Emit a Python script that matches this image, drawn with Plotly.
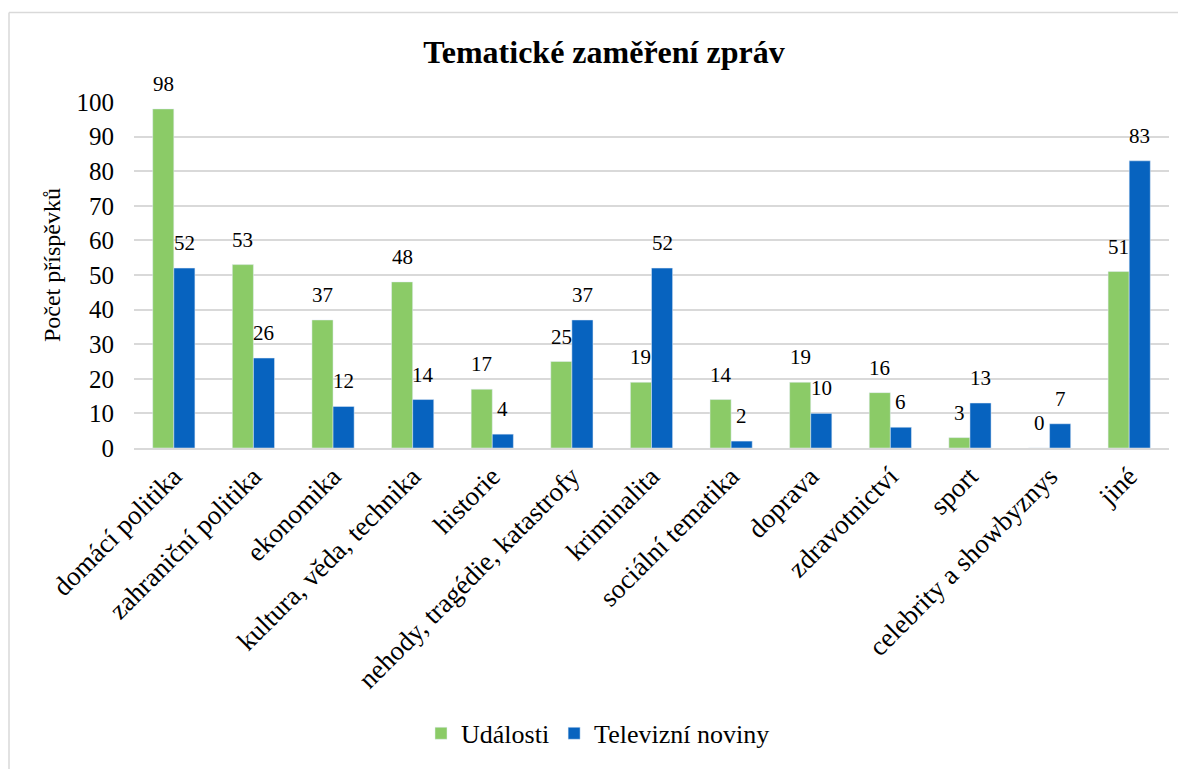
import plotly.graph_objects as go

categories = ["domácí politika", "zahraniční politika", "ekonomika", "kultura, věda, technika",
              "historie", "nehody, tragédie, katastrofy", "kriminalita", "sociální tematika",
              "doprava", "zdravotnictví", "sport", "celebrity a showbyznys", "jiné"]
udalosti = [98, 53, 37, 48, 17, 25, 19, 14, 19, 16, 3, 0, 51]
televizni = [52, 26, 12, 14, 4, 37, 52, 2, 10, 6, 13, 7, 83]
y_ticks = [0, 10, 20, 30, 40, 50, 60, 70, 80, 90, 100]

FONT = "Times New Roman, Liberation Serif, serif"
OFF = 8  # page body margin
W, H = 1186 - OFF, 769 - OFF
ML, MT = 134 - OFF, 102 - OFF
MR = W - (1169 - OFF)
MB = H - (450 - OFF)
BARGAP = 0.47

fig = go.Figure()
fig.add_trace(go.Bar(name="Události", x=categories, y=udalosti, marker_color="#8BCB67"))
fig.add_trace(go.Bar(name="Televizní noviny", x=categories, y=televizni, marker_color="#0763BF"))

pw = W - ML - MR
ph = H - MT - MB
bar_px = pw / len(categories) * (1 - BARGAP) / 2

# data labels above the bars
for vals, shift in ((udalosti, -bar_px / 2), (televizni, bar_px / 2)):
    for c, v in zip(categories, vals):
        fig.add_annotation(x=c, y=v, xref="x", yref="y", text=str(v), showarrow=False,
                           xanchor="center", yanchor="bottom", xshift=shift, yshift=11,
                           font=dict(family=FONT, size=21, color="#000"))

# y-axis title
fig.add_annotation(text="Počet příspěvků", xref="paper", yref="paper",
                   x=(52 - 134) / pw, y=(450 - 266) / ph, textangle=-90, showarrow=False,
                   xanchor="center", yanchor="middle",
                   font=dict(family=FONT, size=24, color="#000"))

x0 = (1 - ML) / pw
y1 = (H - MB - 4) / ph
fig.add_shape(type="line", xref="paper", yref="paper", x0=x0, x1=x0, y0=-5, y1=y1,
              line=dict(color="#D9D9D9", width=1.5))
fig.add_shape(type="line", xref="paper", yref="paper", x0=x0, x1=5, y0=y1, y1=y1,
              line=dict(color="#D9D9D9", width=1.5))

fig.update_layout(
    width=W, height=H,
    margin=dict(l=ML, r=MR, t=MT, b=MB),
    paper_bgcolor="white", plot_bgcolor="white",
    barmode="group", bargap=BARGAP, bargroupgap=0,
    font=dict(family=FONT, color="#000"),
    title=dict(text="<b>Tematické zaměření zpráv</b>", x=(604 - OFF) / W, xref="container",
               xanchor="center", y=(H - (52 - OFF)) / H, yanchor="middle",
               font=dict(family=FONT, size=32, color="#000")),
    showlegend=True,
    legend=dict(orientation="h", x=((598 - OFF) - ML) / pw, xanchor="center", xref="paper",
                y=(H - MB - (737 - OFF)) / ph, yanchor="middle",
                font=dict(family=FONT, size=26, color="#000"), itemwidth=30,
                traceorder="normal"),
)
fig.update_xaxes(tickangle=-45, tickfont=dict(family=FONT, size=27, color="#000"),
                 showline=True, linecolor="#D9D9D9", linewidth=1.5, ticks="")
fig.update_yaxes(range=[0, 100], tickvals=y_ticks, tickfont=dict(family=FONT, size=25, color="#000"),
                 showgrid=True, gridcolor="#D9D9D9", gridwidth=1.5, zeroline=False,
                 ticks="", ticklabelstandoff=19)

fig.write_html("out.html")
